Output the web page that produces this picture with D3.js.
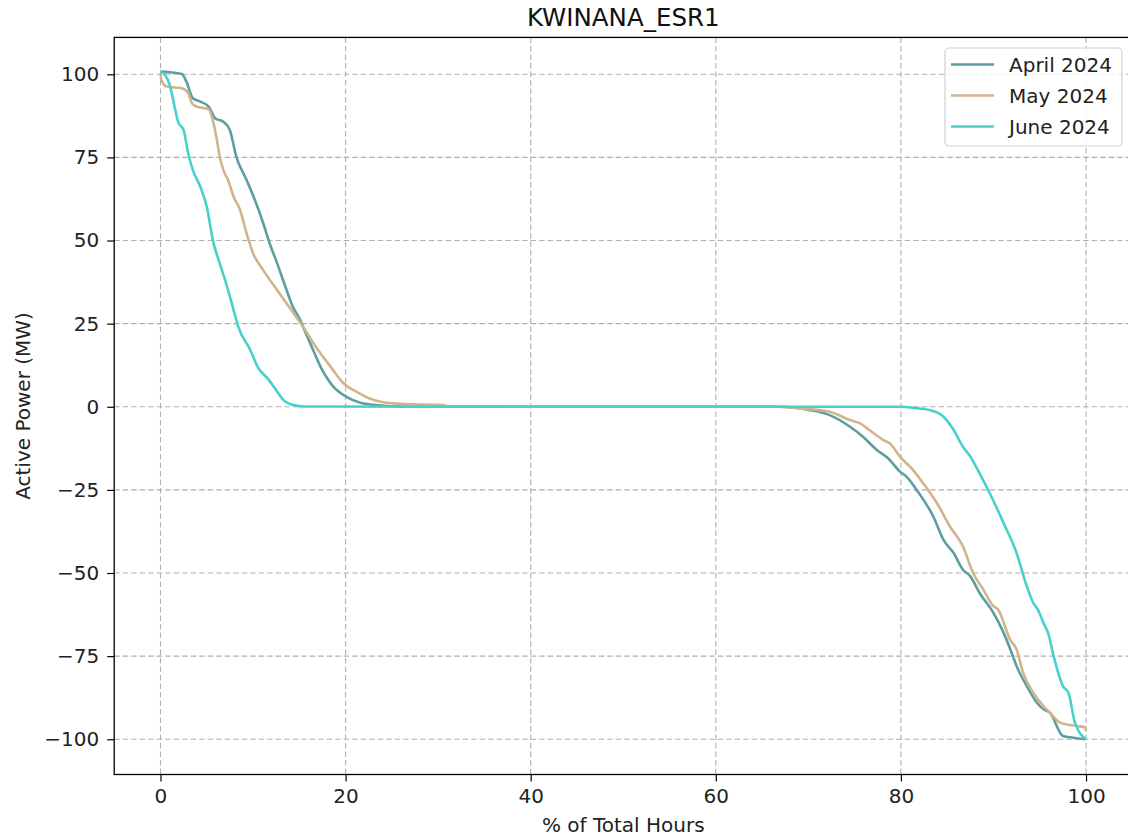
<!DOCTYPE html>
<html>
<head>
<meta charset="utf-8">
<script src="https://cdn.jsdelivr.net/npm/d3@7"></script>
<style>
  html, body { margin: 0; padding: 0; background: #fff; }
  svg { display: block; font-family: "DejaVu Sans", sans-serif; }
</style>
</head>
<body>
<svg id="chart" width="1128" height="838"></svg>
<script>
// ---- Data (x = % of total hours, y = active power MW) ----
const seriesNames = ["April 2024", "May 2024", "June 2024"];
const seriesColors = ["#5f9ea0", "#d2b48c", "#48d1cc"];

const aprilData = [
  [0,100.8],[1,100.6],[2.3,100.1],[2.8,97.8],[3.5,92.8],[4.3,91.8],[5.2,90.3],[5.9,86.8],
  [6.8,85.7],[7.5,83.2],[8.2,75.2],[9.3,68.2],[10.2,62.2],[11.1,55.2],[11.8,49.1],[12.6,43.2],
  [13.5,36.1],[14.3,30.1],[15.1,26.1],[15.4,24.1],[16.2,19],[17.3,12],[18.7,6],[20.1,3],
  [21.6,1.2],[23,0.6],[26,0.1],[40,0],[60,0],[66.6,0],[68.5,-0.3],[70.2,-1],[72.3,-2.5],
  [74.5,-6],[75.9,-9],[77.4,-13],[78.5,-15.2],[79.9,-19.5],[80.6,-21],[81.7,-25],[83.5,-33],
  [84.6,-40],[85.7,-44],[86.7,-49],[87.5,-51],[88.5,-56],[90,-62],[91.1,-68],[92.1,-75],
  [92.5,-78],[93.6,-84],[94.7,-89],[95.4,-91],[96.1,-92],[97.5,-99],[98.3,-99.4],[100,-100]
];

const mayData = [
  [0,100.3],[0.1,98.3],[0.7,96.3],[2.3,95.8],[3.0,94.3],[3.4,91.3],[3.9,90.3],[5.2,89.5],
  [5.7,85.7],[6.1,80.2],[6.4,75.2],[6.8,71.2],[7.3,68.2],[7.9,63.2],[8.6,59.2],[9.3,52.2],
  [10.0,46.2],[11.1,41.1],[12.6,35.1],[14.0,29.6],[15.4,24.1],[16.8,18],[18.4,12],[19.8,7],
  [21.2,4.5],[22.6,2.5],[24.4,1.2],[26.6,0.8],[30.6,0.5],[31,0],[60,0],[67,0],[69.1,-0.5],
  [72.3,-1.5],[74.5,-4],[75.6,-5],[76.6,-7],[78.1,-10],[78.8,-11],[79.9,-15],[81.3,-19],
  [82.4,-23],[83.9,-29],[85.3,-36],[86.7,-42],[87.8,-50],[88.9,-55],[90,-60],[90.5,-61],
  [91.8,-70],[92.5,-73],[93.2,-80],[94.3,-86],[95.4,-90],[96.1,-92],[97.2,-95],[99,-96],
  [99.9,-96.4],[100,-97.5]
];

const juneData = [
  [0,100.8],[0.5,99.8],[1.0,96.8],[1.6,89.3],[1.9,85.7],[2.5,83.2],[3.0,76.2],[3.5,71.2],
  [4.3,66.2],[5.0,60.2],[5.7,49.6],[6.4,43.2],[7.2,36.1],[7.9,29.1],[8.4,24.1],[9.7,17.1],
  [10.5,12],[11.7,8.1],[12.5,5],[13.3,2.0],[14.4,0.5],[15.5,0.1],[40,0],[80,0],[81,-0.2],
  [82,-0.5],[83.1,-1],[84.6,-3],[85.7,-7],[86.7,-12],[87.5,-15],[88.5,-20],[89.6,-26],
  [91.1,-35],[92.5,-44],[93.6,-54],[94.3,-59],[94.8,-61],[95.4,-65],[95.9,-68],[96.5,-75],
  [97.5,-84],[98.1,-86],[98.8,-95],[100,-100]
];

const xTicks = [0, 20, 40, 60, 80, 100];
const yTicks = [-100, -75, -50, -25, 0, 25, 50, 75, 100];
const titleText = "KWINANA_ESR1";
const xLabel = "% of Total Hours";
const yLabel = "Active Power (MW)";

// ---- Layout ----
const svg = d3.select("#chart");
const xDomain = [-5, 105];
const yDomain = [-110.6, 111.1];
const plot = { left: 114.2, right: 1132.3, top: 37.4, bottom: 774.5 };

const x = d3.scaleLinear().domain(xDomain).range([plot.left, plot.right]);
const y = d3.scaleLinear().domain(yDomain).range([plot.bottom, plot.top]);

const tickFont = 20;

// grid
const grid = svg.append("g");
grid.selectAll("line.vx").data(xTicks).enter().append("line")
  .attr("x1", d => x(d)).attr("x2", d => x(d))
  .attr("y1", plot.top).attr("y2", plot.bottom)
  .attr("stroke", "#b0b0b0").attr("stroke-width", 1.1).attr("stroke-dasharray", "5.5,3");
grid.selectAll("line.hy").data(yTicks).enter().append("line")
  .attr("x1", plot.left).attr("x2", plot.right)
  .attr("y1", d => y(d)).attr("y2", d => y(d))
  .attr("stroke", "#b0b0b0").attr("stroke-width", 1.1).attr("stroke-dasharray", "5.5,3");

// lines
const line = d3.line().x(d => x(d[0])).y(d => y(d[1])).curve(d3.curveMonotoneX);
const allData = [aprilData, mayData, juneData];
svg.append("g").selectAll("path").data(allData).enter().append("path")
  .attr("d", d => line(d))
  .attr("fill", "none")
  .attr("stroke", (d, i) => seriesColors[i])
  .attr("stroke-width", 2.6)
  .attr("stroke-linejoin", "round")
  .attr("stroke-linecap", "butt");

// axes
const xAxis = d3.axisBottom(x).tickValues(xTicks).tickSize(7).tickPadding(7).tickFormat(d3.format("d"));
const yAxis = d3.axisLeft(y).tickValues(yTicks).tickSize(7).tickPadding(8)
  .tickFormat(d => d < 0 ? "\u2212" + Math.abs(d) : String(d));

const gx = svg.append("g").attr("transform", `translate(0,${plot.bottom})`).call(xAxis);
const gy = svg.append("g").attr("transform", `translate(${plot.left},0)`).call(yAxis);
[gx, gy].forEach(g => {
  g.select(".domain").remove();
  g.selectAll(".tick line").attr("stroke", "#000").attr("stroke-width", 1.2);
  g.selectAll(".tick text").attr("fill", "#222").style("font-size", tickFont + "px")
    .style("font-family", "DejaVu Sans");
});

// spines
svg.append("rect")
  .attr("x", plot.left).attr("y", plot.top)
  .attr("width", plot.right - plot.left).attr("height", plot.bottom - plot.top)
  .attr("fill", "none").attr("stroke", "#000").attr("stroke-width", 1.3);

// title & labels
svg.append("text").attr("x", (plot.left + plot.right) / 2).attr("y", 26)
  .attr("text-anchor", "middle").style("font-size", "24.5px").attr("fill", "#111").text(titleText);
svg.append("text").attr("x", (plot.left + plot.right) / 2).attr("y", 832)
  .attr("text-anchor", "middle").style("font-size", tickFont + "px").attr("fill", "#222").text(xLabel);
svg.append("text")
  .attr("transform", `translate(30,${(plot.top + plot.bottom) / 2}) rotate(-90)`)
  .attr("text-anchor", "middle").style("font-size", tickFont + "px").attr("fill", "#222").text(yLabel);

// legend
const lg = svg.append("g");
lg.append("rect").attr("x", 945).attr("y", 48).attr("width", 177).attr("height", 98)
  .attr("rx", 4).attr("fill", "#fff").attr("fill-opacity", 0.8)
  .attr("stroke", "#d0d0d0").attr("stroke-width", 1.2);
seriesNames.forEach((name, i) => {
  const cy = 64.5 + i * 31;
  lg.append("line").attr("x1", 951).attr("x2", 994).attr("y1", cy).attr("y2", cy)
    .attr("stroke", seriesColors[i]).attr("stroke-width", 2.6);
  lg.append("text").attr("x", 1009).attr("y", cy + 7)
    .style("font-size", tickFont + "px").attr("fill", "#222").text(name);
});
</script>
</body>
</html>
